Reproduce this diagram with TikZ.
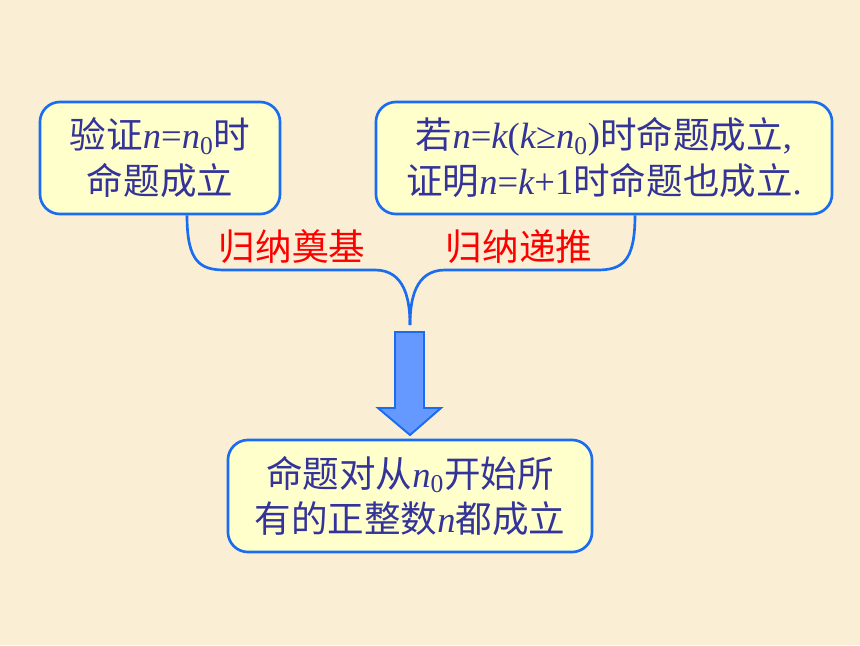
\documentclass[tikz,border=0pt]{standalone}
\usepackage{fontspec}
\setmainfont{Noto Sans CJK SC}
\newfontfamily\tnr{Liberation Serif}
\usepackage{tikz}
\usetikzlibrary{calc,positioning}

\definecolor{paper}{HTML}{FAEFD4}
\definecolor{boxfill}{HTML}{FFFFCC}
\definecolor{edge}{HTML}{1A6CF0}
\definecolor{ink}{HTML}{333399}
\definecolor{arrowfill}{HTML}{6699FF}

\newcommand{\vn}{{\tnr\itshape n}}
\newcommand{\vk}{{\tnr\itshape k}}
\newcommand{\nzero}{{\tnr\itshape n}{\tnr\textsubscript{0}}}

\begin{document}
\begin{tikzpicture}[x=0.025cm,y=-0.025cm,
	box/.style={draw=edge,line width=1.9pt,fill=boxfill,rounded corners=0.5cm,
		text=ink,align=center,inner sep=0pt,minimum height=2.8cm,
		font=\fontsize{26}{32.7}\selectfont},
	tag/.style={text=red,font=\fontsize{26}{32.7}\selectfont},
	brace/.style={draw=edge,line width=1.9pt}]

		\fill[paper] (0,0) rectangle (860,645);

		% the two premises
		\node[box,minimum width=6cm] (basebox) at (160,158)
			{验证\vn{\tnr=}\nzero 时\\命题成立};
		\node[box,minimum width=11.4cm] (stepbox) at (604,158)
			{若\vn{\tnr=}\vk{\tnr(}\vk{\tnr≥}\nzero{\tnr)}时命题成立{\tnr,}\\证明\vn{\tnr=}\vk{\tnr+1}时命题也成立{\tnr.}};

		% conclusion
		\node[box,minimum width=9.1cm] (endbox) at (410,496)
			{命题对从\nzero 开始所\\有的正整数\vn 都成立};

		% the brace joining them
		\coordinate (tip) at (410,325);
		\draw[brace] ($(basebox.south)+(27,0)$) .. controls (187,262) and (200,270) .. (225,270)
			-- (375,270) .. controls (405,270) and (410,300) .. (tip);
		\draw[brace] ($(stepbox.south)+(31,0)$) .. controls (635,262) and (622,270) .. (597,270)
			-- (445,270) .. controls (415,270) and (410,300) .. (tip);
		\node[tag] (base) at (292,247) {归纳奠基};
		\node[tag] (step) at (519,247) {归纳递推};

		% block arrow
		\draw[draw=edge,fill=arrowfill,line width=1.4pt,line join=miter]
			(395,332) -- (424,332) -- (424,408) -- (441,408) -- (410,435)
			-- (378,408) -- (395,408) -- cycle;
	\end{tikzpicture}
\end{document}
